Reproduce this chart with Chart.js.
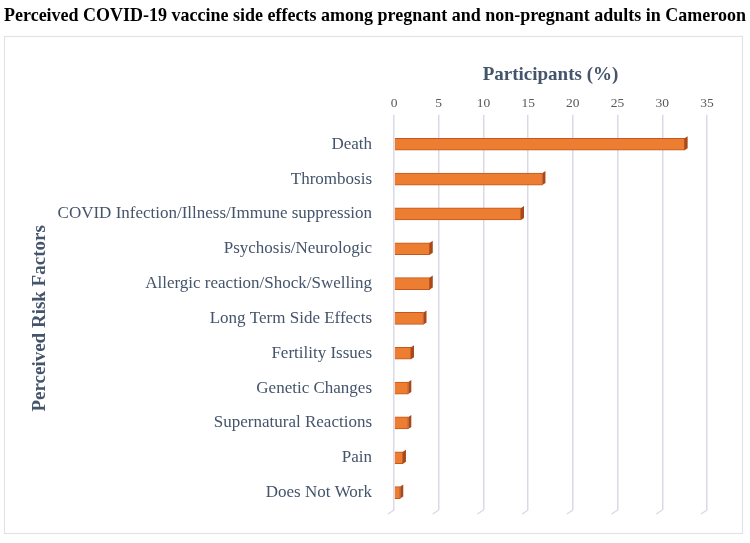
<!DOCTYPE html>
<html>
<head>
<meta charset="utf-8">
<script src="https://cdn.jsdelivr.net/npm/chart.js@4.4.0/dist/chart.umd.min.js"></script>
<style>
  html, body { margin: 0; padding: 0; background: #fff; }
  #wrap { width: 750px; height: 543px; }
</style>
</head>
<body>
<div id="wrap"><canvas id="c" width="750" height="543"></canvas></div>
<script>
// risk factors, top to bottom as they appear in the chart
var riskFactors = [
  "Death",
  "Thrombosis",
  "COVID Infection/Illness/Immune suppression",
  "Psychosis/Neurologic",
  "Allergic reaction/Shock/Swelling",
  "Long Term Side Effects",
  "Fertility Issues",
  "Genetic Changes",
  "Supernatural Reactions",
  "Pain",
  "Does Not Work"
];
// share of participants (%)
var participantsPct = [32.5, 16.6, 14.2, 4.0, 4.0, 3.3, 1.9, 1.6, 1.6, 1.0, 0.7];
var xTicks = [0, 5, 10, 15, 20, 25, 30, 35];

var textBlue = "#44546A";
var serif = "'Liberation Serif', 'Times New Roman', serif";

// light frame around the plot, like the office chart border
var framePlugin = {
  id: "frame",
  beforeDraw: function(chart) {
    var ctx = chart.ctx;
    ctx.save();
    ctx.strokeStyle = "#E3E3E3";
    ctx.lineWidth = 1.2;
    ctx.strokeRect(4.5, 36.5, 738, 497);
    ctx.restore();
  }
};

// 3d touches: floor tails under the gridlines and a dark end face on each bar
var depthPlugin = {
  id: "depth",
  beforeDatasetsDraw: function(chart) {
    var ctx = chart.ctx, xs = chart.scales.x, bottom = chart.chartArea.bottom;
    ctx.save();
    ctx.strokeStyle = "#DADAE6";
    ctx.lineWidth = 1.5;
    xTicks.forEach(function(v) {
      var x = xs.getPixelForValue(v);
      ctx.beginPath();
      ctx.moveTo(x, bottom);
      ctx.lineTo(x - 6, bottom + 4);
      ctx.stroke();
    });
    ctx.restore();
  },
  afterDatasetsDraw: function(chart) {
    var ctx = chart.ctx;
    var meta = chart.getDatasetMeta(0);
    ctx.save();
    meta.data.forEach(function(bar) {
      var h = bar.height, x = bar.x, top = bar.y - h / 2;
      ctx.fillStyle = "#A9481A";
      ctx.beginPath();
      ctx.moveTo(x, top);
      ctx.lineTo(x + 3, top - 2);
      ctx.lineTo(x + 3, top + h - 2);
      ctx.lineTo(x, top + h);
      ctx.closePath();
      ctx.fill();
    });
    ctx.restore();
  }
};

var ctx = document.getElementById("c").getContext("2d");

function barFill(context) {
  var el = context.element;
  if (!el || el.height == null) return "#ED7D31";
  var top = el.y - el.height / 2;
  var g = context.chart.ctx.createLinearGradient(0, top, 0, top + el.height);
  g.addColorStop(0, "#F8A66B");
  g.addColorStop(0.45, "#F2813A");
  g.addColorStop(1, "#DC6420");
  return g;
}

new Chart(ctx, {
  type: "bar",
  data: {
    labels: riskFactors,
    datasets: [{
      data: participantsPct,
      backgroundColor: barFill,
      borderColor: "#C0581F",
      borderWidth: 1,
      borderSkipped: "left",
      barThickness: 12
    }]
  },
  options: {
    indexAxis: "y",
    responsive: false,
    animation: false,
    layout: { padding: { left: 4, right: 4, top: 0, bottom: 33 } },
    plugins: {
      legend: { display: false },
      tooltip: { enabled: false },
      title: {
        display: true,
        text: "Perceived COVID-19 vaccine side effects among pregnant and non-pregnant adults in Cameroon",
        align: "start",
        color: "#000",
        font: { family: serif, size: 19, weight: "bold" },
        padding: { top: 5, bottom: 8 }
      }
    },
    scales: {
      x: {
        position: "top",
        min: 0,
        max: 35,
        afterBuildTicks: function(scale) {
          scale.ticks = xTicks.map(function(v) { return { value: v }; });
        },
        ticks: {
          color: "#595959",
          font: { family: serif, size: 13.5 },
          padding: 3
        },
        grid: {
          color: "#DADAE6",
          lineWidth: 1.5,
          drawTicks: true,
          tickLength: 12
        },
        border: { display: false },
        title: {
          display: true,
          text: "Participants (%)",
          color: textBlue,
          font: { family: serif, size: 19, weight: "bold" },
          padding: { top: 28, bottom: 6 }
        }
      },
      y: {
        afterFit: function(scale) { scale.width = 390; },
        ticks: {
          color: textBlue,
          font: { family: serif, size: 17 },
          padding: 14
        },
        grid: { display: false },
        border: { display: false },
        title: {
          display: true,
          text: "Perceived Risk Factors",
          color: textBlue,
          font: { family: serif, size: 19, weight: "bold" },
          padding: { top: 25, bottom: 0 }
        }
      },
      // empty right margin so the plot stops where the reference does
      yRight: {
        type: "category",
        position: "right",
        afterFit: function(scale) { scale.width = 39; },
        ticks: { display: false },
        grid: { display: false },
        border: { display: false }
      }
    }
  },
  plugins: [framePlugin, depthPlugin]
});
</script>
</body>
</html>
